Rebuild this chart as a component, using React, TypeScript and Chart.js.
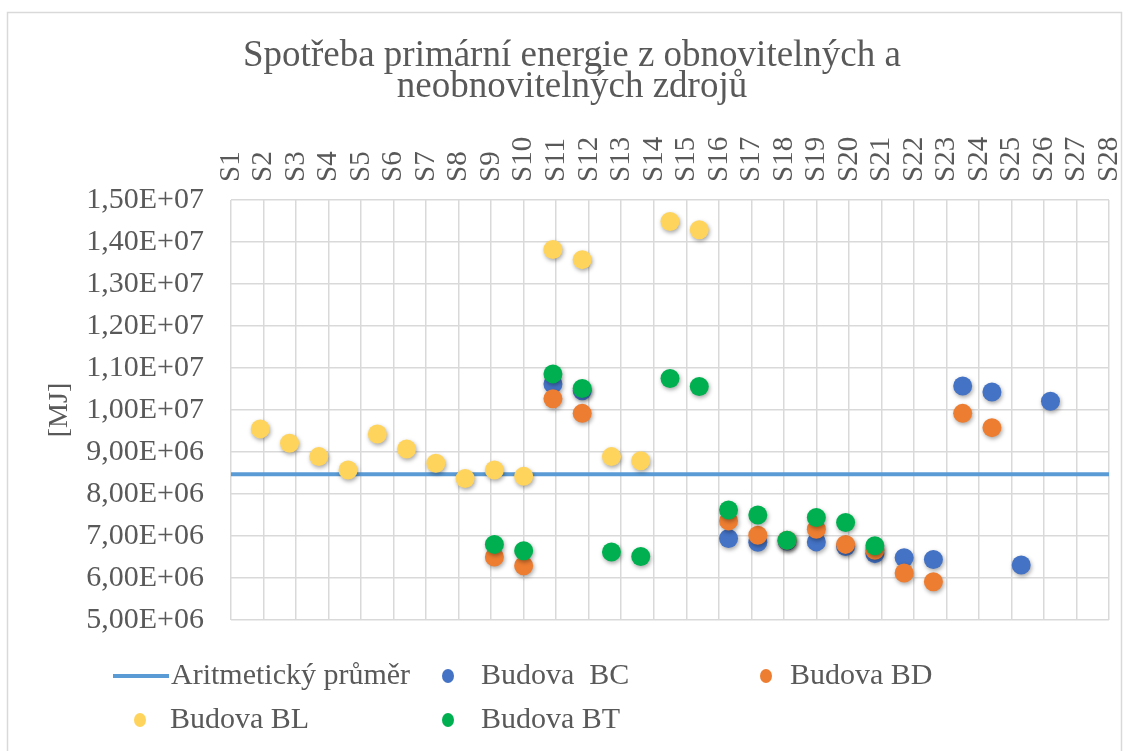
import React, { useEffect, useRef } from 'react';
import { Chart, registerables } from 'chart.js';

Chart.register(...registerables);

const categoryLabels = [
  'S1', 'S2', 'S3', 'S4', 'S5', 'S6', 'S7', 'S8', 'S9', 'S10',
  'S11', 'S12', 'S13', 'S14', 'S15', 'S16', 'S17', 'S18', 'S19', 'S20',
  'S21', 'S22', 'S23', 'S24', 'S25', 'S26', 'S27', 'S28',
];

const titleLines = ['Spotřeba primární energie z obnovitelných a', 'neobnovitelných zdrojů'];
const yAxisTitle = '[MJ]';

const meanLabel = 'Aritmetický průměr';
const meanValue = 8470000;
const meanRange = [0, 30];

const seriesNames = ['Budova  BC', 'Budova BD', 'Budova BL', 'Budova BT'];

const budovaBC = [
  null, null, null, null, null, null, null, null, null, null,
  10620000, 10460000, null, null, null, null,
  6940000, 6850000, 6880000, 6860000, 6750000, 6580000, 6480000, 6440000,
  10570000, 10430000, 6310000, 10210000,
];
const budovaBD = [
  null, null, null, null, null, null, null, null,
  6500000, 6290000, 10270000, 9920000,
  null, null, null, null,
  7360000, 7020000, 6900000, 7160000, 6800000, 6660000, 6120000, 5910000,
  9920000, 9580000, null, null,
];
const budovaBL = [
  9550000, 9210000, 8890000, 8570000, 9430000, 9070000, 8730000, 8370000,
  8570000, 8420000, 13820000, 13580000, 8890000, 8790000, 14490000, 14290000,
  null, null, null, null, null, null, null, null, null, null, null, null,
];
const budovaBT = [
  null, null, null, null, null, null, null, null,
  6800000, 6650000, 10860000, 10510000, 6620000, 6510000, 10750000, 10560000,
  7620000, 7500000, 6900000, 7440000, 7320000, 6770000,
  null, null, null, null, null, null,
];

const yMin = 5000000;
const yMax = 15000000;
const yStep = 1000000;
const xMin = 0;
const xMax = 30;

const COLORS = {
  mean: '#5b9bd5',
  bc: '#4472c4',
  bd: '#ed7d31',
  bl: '#ffd45c',
  bt: '#00b050',
  grid: '#d9d9d9',
  text: '#595959',
};

const FONT = '"Liberation Serif", "Times New Roman", serif';

const TITLE_SIZE = 37;
const TITLE_LH = 0.86;
const TITLE_PAD_TOP = 40;
const PLOT_TOP = 200;
const PLOT_LEFT = 231;
const PAD_LEFT = 35;

function toPoints(values: (number | null)[]) {
  const pts: { x: number; y: number }[] = [];
  values.forEach((v, i) => {
    if (v !== null && v !== undefined) pts.push({ x: i + 1, y: v });
  });
  return pts;
}

function sci(v: number) {
  const [m, e] = v.toExponential(2).split('e');
  const n = parseInt(e, 10);
  return m.replace('.', ',') + 'E' + (n < 0 ? '-' : '+') + String(Math.abs(n)).padStart(2, '0');
}

const framePlugin = {
  id: 'frame',
  beforeDraw(chart: any) {
    const ctx = chart.ctx;
    ctx.save();
    ctx.fillStyle = '#ffffff';
    ctx.fillRect(0, 0, chart.width, chart.height);
    ctx.strokeStyle = '#d9d9d9';
    ctx.lineWidth = 1.5;
    ctx.strokeRect(7.5, 12.5, 1114, 800);
    ctx.restore();
  },
};

const shadowPlugin = {
  id: 'pointShadow',
  beforeDatasetDraw(chart: any, args: any) {
    const ds = chart.data.datasets[args.index];
    if (ds.showLine) return;
    const ctx = chart.ctx;
    ctx.save();
    ctx.shadowColor = 'rgba(0,0,0,0.35)';
    ctx.shadowBlur = 4;
    ctx.shadowOffsetX = 1;
    ctx.shadowOffsetY = 2;
    ds._shadowSaved = true;
  },
  afterDatasetDraw(chart: any, args: any) {
    const ds = chart.data.datasets[args.index];
    if (ds._shadowSaved) {
      chart.ctx.restore();
      ds._shadowSaved = false;
    }
  },
};

const legendSlots = [
  { x: 113, y: 676, tx: 171 },
  { x: 448, y: 676, tx: 481 },
  { x: 766, y: 676, tx: 790 },
  { x: 140, y: 720, tx: 170 },
  { x: 448, y: 720, tx: 481 },
];

const legendPlugin = {
  id: 'customLegend',
  afterDraw(chart: any) {
    const ctx = chart.ctx;
    ctx.save();
    ctx.font = `30px ${FONT}`;
    ctx.textBaseline = 'middle';
    ctx.textAlign = 'left';
    chart.data.datasets.forEach((ds: any, i: number) => {
      const s = legendSlots[i];
      if (!s) return;
      if (ds.showLine) {
        ctx.strokeStyle = ds.borderColor;
        ctx.lineWidth = 4;
        ctx.beginPath();
        ctx.moveTo(s.x, s.y);
        ctx.lineTo(s.x + 56, s.y);
        ctx.stroke();
      } else {
        ctx.fillStyle = ds.backgroundColor;
        ctx.beginPath();
        ctx.ellipse(s.x, s.y, 6, 7, 0, 0, Math.PI * 2);
        ctx.fill();
      }
      ctx.fillStyle = COLORS.text;
      ctx.fillText(ds.label, s.tx, s.y);
    });
    ctx.restore();
  },
};

function pointDataset(label: string, values: (number | null)[], color: string, order: number) {
  return {
    label,
    data: toPoints(values),
    backgroundColor: color,
    borderColor: color,
    borderWidth: 0,
    pointRadius: 9.5,
    pointHoverRadius: 9.5,
    showLine: false,
    order,
  };
}

export default function App() {
  const ref = useRef<HTMLCanvasElement | null>(null);

  useEffect(() => {
    if (!ref.current) return;
    const chart = new Chart(ref.current, {
      type: 'scatter',
      data: {
        datasets: [
          {
            label: meanLabel,
            data: [
              { x: meanRange[0], y: meanValue },
              { x: meanRange[1], y: meanValue },
            ],
            showLine: true,
            borderColor: COLORS.mean,
            backgroundColor: COLORS.mean,
            borderWidth: 4,
            pointRadius: 0,
            pointHoverRadius: 0,
            order: 5,
          } as any,
          pointDataset(seriesNames[0], budovaBC, COLORS.bc, 4),
          pointDataset(seriesNames[1], budovaBD, COLORS.bd, 3),
          pointDataset(seriesNames[2], budovaBL, COLORS.bl, 2),
          pointDataset(seriesNames[3], budovaBT, COLORS.bt, 1),
        ],
      },
      options: {
        responsive: false,
        animation: false,
        events: [],
        layout: { padding: { left: PAD_LEFT, right: 19, top: 0, bottom: 131 } },
        plugins: {
          legend: { display: false },
          tooltip: { enabled: false },
          title: {
            display: true,
            text: titleLines,
            color: COLORS.text,
            font: { family: FONT, size: TITLE_SIZE, weight: 'normal', lineHeight: TITLE_LH },
            padding: { top: TITLE_PAD_TOP, bottom: 0 },
          },
        },
        scales: {
          x: {
            type: 'linear',
            min: xMin,
            max: xMax,
            display: false,
          },
          x2: {
            type: 'category',
            labels: categoryLabels,
            position: 'top',
            offset: false,
            grid: { color: COLORS.grid, lineWidth: 1.5, drawTicks: false },
            border: { display: false },
            ticks: {
              color: COLORS.text,
              font: { family: FONT, size: 29 },
              minRotation: 90,
              maxRotation: 90,
              autoSkip: false,
              padding: 18,
              labelOffset: 35,
            },
            afterFit(scale: any) {
              scale.height = PLOT_TOP - TITLE_PAD_TOP - 2 * TITLE_SIZE * TITLE_LH;
            },
          } as any,
          y: {
            type: 'linear',
            min: yMin,
            max: yMax,
            grid: { color: COLORS.grid, lineWidth: 1.5, drawTicks: false },
            border: { display: false },
            ticks: {
              stepSize: yStep,
              color: COLORS.text,
              font: { family: FONT, size: 30 },
              padding: 27,
              callback: (v: any) => sci(Number(v)),
            },
            title: {
              display: true,
              text: yAxisTitle,
              color: COLORS.text,
              font: { family: FONT, size: 28, lineHeight: 1 },
              padding: { top: 11, bottom: 0 },
            },
            afterFit(scale: any) {
              scale.width = PLOT_LEFT - PAD_LEFT;
            },
          } as any,
        },
      } as any,
      plugins: [framePlugin, shadowPlugin, legendPlugin],
    });
    return () => chart.destroy();
  }, []);

  return (
    <div style={{ position: 'fixed', left: 0, top: 0, width: 1128, height: 751, background: '#fff' }}>
      <canvas ref={ref} width={1128} height={751} style={{ display: 'block', width: 1128, height: 751 }} />
    </div>
  );
}
